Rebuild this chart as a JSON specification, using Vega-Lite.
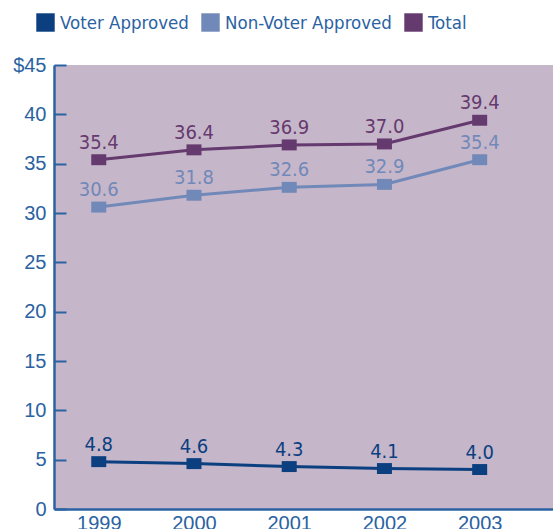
{
  "$schema": "https://vega.github.io/schema/vega-lite/v6.json",
  "width": 499,
  "height": 444,
  "autosize": {"type": "none"},
  "padding": {"left": 54, "top": 65, "right": 0, "bottom": 20},
  "background": "white",
  "config": {
    "view": {"fill": "#c6b6ca", "stroke": null},
    "font": "Liberation Sans"
  },
  "data": {
    "values": [
      {"year": 1999, "series": "Voter Approved", "value": 4.8},
      {"year": 2000, "series": "Voter Approved", "value": 4.6},
      {"year": 2001, "series": "Voter Approved", "value": 4.3},
      {"year": 2002, "series": "Voter Approved", "value": 4.1},
      {"year": 2003, "series": "Voter Approved", "value": 4.0},
      {"year": 1999, "series": "Non-Voter Approved", "value": 30.6},
      {"year": 2000, "series": "Non-Voter Approved", "value": 31.8},
      {"year": 2001, "series": "Non-Voter Approved", "value": 32.6},
      {"year": 2002, "series": "Non-Voter Approved", "value": 32.9},
      {"year": 2003, "series": "Non-Voter Approved", "value": 35.4},
      {"year": 1999, "series": "Total", "value": 35.4},
      {"year": 2000, "series": "Total", "value": 36.4},
      {"year": 2001, "series": "Total", "value": 36.9},
      {"year": 2002, "series": "Total", "value": 37.0},
      {"year": 2003, "series": "Total", "value": 39.4}
    ]
  },
  "encoding": {
    "x": {
      "field": "year",
      "type": "quantitative",
      "scale": {"domain": [1998.53, 2003.77], "nice": false, "zero": false},
      "axis": {
        "title": null,
        "values": [1999, 2000, 2001, 2002, 2003],
        "format": "d",
        "grid": false,
        "ticks": false,
        "domainColor": "#2a62a2",
        "domainWidth": 2.5,
        "labelColor": "#2a62a2",
        "labelFont": "Liberation Sans",
        "labelFontSize": 20,
        "labelPadding": 4
      }
    },
    "y": {
      "field": "value",
      "type": "quantitative",
      "scale": {"domain": [0, 45], "nice": false},
      "axis": {
        "title": null,
        "values": [0, 5, 10, 15, 20, 25, 30, 35, 40, 45],
        "labelExpr": "datum.value == 45 ? '$45' : datum.label",
        "grid": false,
        "tickSize": -12,
        "tickWidth": 2,
        "tickColor": "#2a62a2",
        "domainColor": "#2a62a2",
        "domainWidth": 2.5,
        "labelColor": "#2a62a2",
        "labelFont": "Liberation Sans",
        "labelFontSize": 20,
        "labelPadding": 20
      }
    },
    "color": {
      "field": "series", "type": "nominal",
      "scale": {"domain": ["Voter Approved", "Non-Voter Approved", "Total"], "range": ["#0b3f80", "#7189b8", "#653a6e"]},
      "legend": {
        "title": null,
        "orient": "none",
        "direction": "horizontal",
        "legendX": -18,
        "legendY": -52,
        "padding": 0,
        "symbolType": "square",
        "symbolSize": 340,
        "symbolStrokeWidth": 0,
        "symbolOpacity": 1,
        "labelFont": "DejaVu Sans Condensed, Liberation Sans",
        "labelFontSize": 18.5,
        "labelLimit": 400,
        "labelColor": "#2a62a2",
        "labelOffset": 5,
        "columnPadding": 12
      }
    }
  },
  "layer": [
    {
      "mark": {"type": "point", "shape": "M-1,-0.73H1V0.73H-1Z", "size": 225, "filled": true, "opacity": 1}
    },
    {
      "mark": {"type": "line", "strokeWidth": 3}
    },
    {
      "mark": {"type": "text", "dy": -11, "baseline": "alphabetic", "font": "DejaVu Sans Condensed, Liberation Sans", "fontSize": 20},
      "encoding": {
        "text": {"field": "value", "type": "quantitative", "format": ".1f"}
      }
    }
  ]
}
